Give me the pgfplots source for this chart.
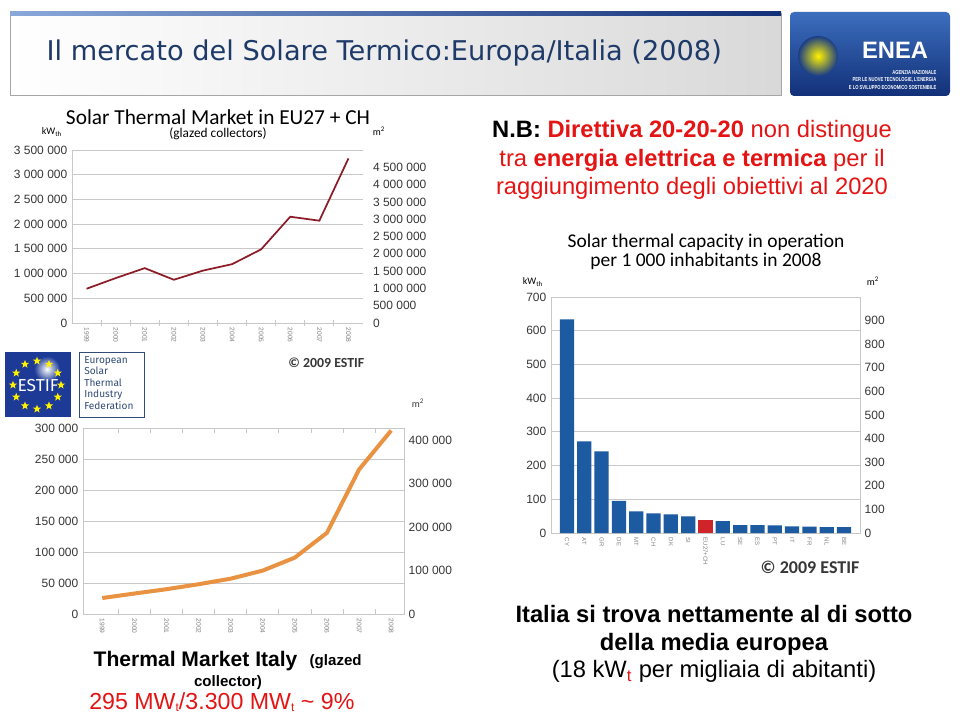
\documentclass[border=0pt]{standalone}
\usepackage{pgfplots}
\pgfplotsset{compat=1.18}
\usepackage{fontspec}
\setmainfont{Liberation Sans}
\newfontfamily\gill{Carlito}
\newfontfamily\fira{Fira Sans}
\newfontfamily\tahoma{DejaVu Sans}
\usetikzlibrary{shapes.geometric}

\definecolor{titleblue}{RGB}{30,58,105}
\definecolor{eured}{RGB}{140,28,40}
\definecolor{itorange}{RGB}{232,146,66}
\definecolor{barblue}{RGB}{28,90,162}
\definecolor{barred}{RGB}{206,36,42}
\definecolor{txtred}{RGB}{228,20,20}
\definecolor{ticktxt}{RGB}{55,55,55}
\definecolor{gridgray}{RGB}{200,200,200}
\definecolor{eneadark}{RGB}{18,48,120}
\definecolor{enealight}{RGB}{60,110,190}
\definecolor{estifblue}{RGB}{28,58,150}
\definecolor{estiftxt}{RGB}{50,75,120}

\pgfplotsset{
  chart/.style={
    scale only axis,
    scaled y ticks=false,
    axis line style={draw=gridgray, line width=0.6pt},
    ymajorgrids, grid style={gridgray, line width=0.7pt},
    major tick length=0pt,
    minor tick length=4pt,
    minor tick style={gridgray, line width=0.6pt},
    yticklabel style={font=\fontsize{9}{10}\selectfont, text=ticktxt,
      /pgf/number format/fixed,
      /pgf/number format/1000 sep={\ },
      /pgf/number format/assume math mode=true},
    xticklabel style={rotate=-90, anchor=west, font=\fontsize{5}{6}\selectfont, text=gray},
  },
  twin/.style={
    scale only axis,
    scaled y ticks=false,
    axis x line=none, axis y line*=right,
    y axis line style={draw=none},
    major tick length=0pt,
    xmin=0, xmax=1,
    yticklabel style={anchor=west, font=\fontsize{9}{10}\selectfont, text=ticktxt,
      /pgf/number format/fixed,
      /pgf/number format/1000 sep={\ },
      /pgf/number format/assume math mode=true},
  },
}

\begin{document}
\begin{tikzpicture}
\begin{scope}[x=0.75pt,y=-0.75pt]
\useasboundingbox (0,0) rectangle (960,717);
\fill[white] (0,0) rectangle (960,717);

% title bar
\shade[left color=white, right color=gray!30] (10,13) rectangle (781,95);
\draw[draw=gray!70, line width=0.6pt] (10,13) rectangle (781,95);
\shade[left color=enealight!60, right color=eneadark] (10,12) rectangle (781,16);
\node[anchor=west, text=titleblue, font=\tahoma\fontsize{20.4}{24}\selectfont] at (42,53)
  {Il mercato del Solare Termico:Europa/Italia (2008)};

% ENEA logo
\shade[top color=enealight, bottom color=eneadark, rounded corners=3pt] (790,12) rectangle (950,96);
\shade[inner color=yellow!90!orange, outer color=eneadark!80!enealight] (818,56) circle (20);
\node[text=white, font=\bfseries\fontsize{17.8}{18}\selectfont] at (895,50) {ENEA};
\node[anchor=east, text=white, font=\bfseries\fontsize{4.3}{5.6}\selectfont, align=right] at (941,80)
  {\scalebox{0.72}[1]{AGENZIA NAZIONALE}\\\scalebox{0.72}[1]{PER LE NUOVE TECNOLOGIE, L'ENERGIA}\\\scalebox{0.72}[1]{E LO SVILUPPO ECONOMICO SOSTENIBILE}};

% chart 1 labels
\node[font=\gill\fontsize{16}{18}\selectfont] at (218,117) {Solar Thermal Market in EU27 + CH};
\node[font=\gill\fontsize{10}{12}\selectfont] at (218,134) {(glazed collectors)};
\node[font=\gill\fontsize{7.5}{9}\selectfont] at (52,132) {kW\textsubscript{th}};
\node[font=\gill\fontsize{7.5}{9}\selectfont] at (379,131) {m\textsuperscript{2}};
\node[anchor=east, font=\gill\bfseries\fontsize{10.4}{12}\selectfont, text=ticktxt] at (369,363) {\textcopyright{} 2009 ESTIF};

% chart 2 unit
\node[font=\gill\fontsize{7.5}{9}\selectfont, text=ticktxt] at (418,403) {m\textsuperscript{2}};

% ESTIF logo
\fill[estifblue] (5,352) rectangle (71,417);
\shade[inner color=white, outer color=estifblue] (47,369) circle (13);
\foreach \a in {0,30,...,330}
  \node[star, star points=5, star point ratio=2.4, fill=yellow, inner sep=0pt, minimum size=6.5pt]
    at ({37+24*cos(\a)},{385-24*sin(\a)}) {};
\node[text=white, font=\fira\fontsize{13}{14}\selectfont] at (38,386) {ESTIF};
\draw[estiftxt, line width=0.6pt, fill=white] (79,352) rectangle (144,417);
\node[anchor=north west, text=estiftxt, font=\fira\fontsize{7.6}{8.6}\selectfont, align=left, inner sep=0pt] at (84,356)
  {European\\Solar\\Thermal\\Industry\\Federation};

% bar chart labels
\node[font=\gill\fontsize{14.6}{15}\selectfont] at (706,242) {Solar thermal capacity in operation};
\node[font=\gill\fontsize{14.6}{15}\selectfont] at (706,261) {per 1 000 inhabitants in 2008};
\node[font=\gill\fontsize{7.5}{9}\selectfont] at (533,282) {kW\textsubscript{th}};
\node[font=\gill\fontsize{7.5}{9}\selectfont] at (873,281) {m\textsuperscript{2}};
\node[anchor=east, font=\gill\bfseries\fontsize{13.5}{14}\selectfont, text=ticktxt] at (864,567) {\textcopyright{} 2009 ESTIF};

% red note
\node[align=center, text=txtred, font=\fontsize{17.8}{21.4}\selectfont] at (692,160)
  {{\bfseries\textcolor{black}{N.B:} Direttiva 20-20-20} non distingue\\
   tra {\bfseries energia elettrica e termica} per il\\
   raggiungimento degli obiettivi al 2020};

% bottom right note
\node[align=center, font=\fontsize{17.8}{20.6}\selectfont] at (714,644)
  {{\bfseries Italia si trova nettamente al di sotto}\\
   {\bfseries della media europea}\\
   (18 kW\textsubscript{\textcolor{txtred}{t}} per migliaia di abitanti)};

% bottom left caption
\node[anchor=west, font=\bfseries\fontsize{15.8}{18}\selectfont] at (89,661) {Thermal Market Italy};
\node[anchor=west, font=\bfseries\fontsize{11.3}{13}\selectfont] at (305,662) {(glazed};
\node[font=\bfseries\fontsize{11.3}{13}\selectfont] at (228,683) {collector)};
\node[anchor=base west, text=txtred, font=\fontsize{17.4}{19}\selectfont, inner sep=0pt] at (89,709)
  {295 MW\raisebox{-0.12em}{\fontsize{9}{9}\selectfont t}/3.300 MW\raisebox{-0.12em}{\fontsize{9}{9}\selectfont t} \textasciitilde{} 9\%};

\coordinate (c1) at (72,323);
\coordinate (c2) at (83,614);
\coordinate (c3) at (551,533);
\end{scope}

% ---- EU27 + CH market
\begin{axis}[chart, at={(c1)}, anchor=south west,
  width=218.25pt, height=129.75pt,
  axis lines*=left,
  xmin=-0.5, xmax=9.5, ymin=0, ymax=3500000,
  ytick={0,500000,...,3500000},
  xtick={0,...,9},
  xticklabels={1999,2000,2001,2002,2003,2004,2005,2006,2007,2008},
  minor xtick={0.5,1.5,...,8.5},
  tick align=center]
\addplot[eured, line width=1.3pt] coordinates {
  (0,693000) (1,908000) (2,1110000) (3,875000) (4,1060000)
  (5,1190000) (6,1490000) (7,2150000) (8,2070000) (9,3330000)};
\end{axis}
\begin{axis}[twin, at={(c1)}, anchor=south west,
  width=218.25pt, height=129.75pt,
  ymin=0, ymax=5000000, ytick={0,500000,...,4500000},
  yticklabel style={xshift=4pt}]
\addplot[draw=none] coordinates {(0,0)};
\end{axis}

% ---- Italy market
\begin{axis}[chart, at={(c2)}, anchor=south west,
  width=240.75pt, height=139.5pt,
  xmin=-0.6, xmax=9.4, ymin=0, ymax=300000,
  ytick={0,50000,...,300000},
  xtick={0,...,9},
  xticklabels={1999,2000,2001,2002,2003,2004,2005,2006,2007,2008},
  minor xtick={0.5,1.5,...,8.5},
  tick align=inside]
\addplot[itorange, line width=3pt] coordinates {
  (0,25800) (1,33000) (2,40000) (3,48000) (4,57000)
  (5,70000) (6,91000) (7,131000) (8,233000) (9,296000)};
\end{axis}
\begin{axis}[twin, at={(c2)}, anchor=south west,
  width=240.75pt, height=139.5pt,
  ymin=0, ymax=428571, ytick={0,100000,...,400000},
  yticklabel style={xshift=0pt}]
\addplot[draw=none] coordinates {(0,0)};
\end{axis}

% ---- capacity per 1000 inhabitants
\begin{axis}[chart, at={(c3)}, anchor=south west,
  width=231.75pt, height=177pt,
  xmin=-0.92, xmax=16.92, ymin=0, ymax=700,
  ytick={0,100,...,700},
  xtick={0,...,16},
  xticklabels={CY,AT,GR,DE,MT,CH,DK,SI,EU27+CH,LU,SE,ES,PT,IT,FR,NL,BE},
  xticklabel style={font=\fontsize{4.5}{5}\selectfont}]
\addplot[ybar, bar width=10.7pt, bar shift=0pt, fill=barblue, draw=none] coordinates {
  (0,634) (1,272) (2,242) (3,95) (4,64) (5,58) (6,55) (7,49)
  (9,35) (10,23.5) (11,23.5) (12,22.5) (13,20) (14,19) (15,17.6) (16,17.6)};
\addplot[ybar, bar width=10.7pt, bar shift=0pt, fill=barred, draw=none] coordinates {(8,40)};
\end{axis}
\begin{axis}[twin, at={(c3)}, anchor=south west,
  width=231.75pt, height=177pt,
  ymin=0, ymax=1000, ytick={0,100,...,900},
  yticklabel style={xshift=0pt}]
\addplot[draw=none] coordinates {(0,0)};
\end{axis}
\end{tikzpicture}
\end{document}
